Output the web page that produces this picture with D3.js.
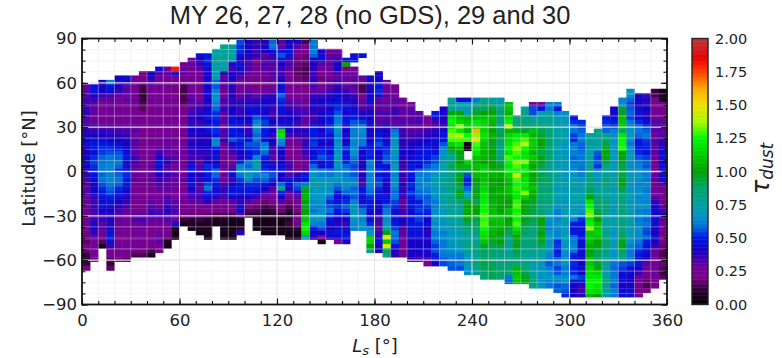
<!DOCTYPE html>
<html>
<head>
<meta charset="utf-8">
<script src="https://cdnjs.cloudflare.com/ajax/libs/d3/7.8.5/d3.min.js"></script>
<style>
  html, body { margin: 0; padding: 0; background: #fff; }
  svg { display: block; }
  text { font-family: "DejaVu Sans", sans-serif; fill: #222; }
</style>
</head>
<body>
<svg id="chart" width="782" height="358"></svg>
<script>
// tick labels
const lsTicks = [0, 60, 120, 180, 240, 300, 360];
const latTicks = [90, 60, 30, 0, -30, -60, -90];
const tauTicks = [0, 0.25, 0.5, 0.75, 1, 1.25, 1.5, 1.75, 2];

// first filled 3 degree latitude row in each 5 degree Ls column (row 0 is the top one)
const topRow = [10,10,9,9,8,8,8,7,7,6,6,6,5,4,3,3,2,1,1,0,0,0,0,0,0,0,0,0,0,2,2,2,4,3,3,8,7,9,10,13,14,16,17,16,15,13,13,13,13,13,13,13,14,17,15,14,14,14,14,16,17,18,21,20,17,15,13,11,12,12,11,11];

// dust opacity x100, one list per Ls column, going down from topRow
const tauColumns = [
  [30,30,32,35,33,36,38,33,30,36,38,40,42,45,42,40,42,44,40,38,36,34,32,30,33,28,30,28,26,28,25,24,22,20,18,16,22,18,10,8,12,20],
  [45,48,42,35,32,30,30,28,30,32,36,40,45,48,50,46,52,55,52,50,48,44,42,40,40,36,34,36,34,32,36,38,42,36,30,26,28,22,28,25],
  [40,42,40,36,30,26,24,28,24,26,30,38,40,46,50,52,54,58,60,62,60,58,60,56,52,48,44,44,46,42,36,36,32,30,28,24,16,6],
  [62,48,44,34,30,28,26,26,24,28,32,36,38,42,48,52,56,60,62,64,62,62,64,60,58,55,50,46,44,40,36,40,38,44,46,50,44,36,24,22,14,12,16],
  [42,44,40,36,30,28,25,27,28,24,26,30,34,38,42,44,50,56,58,62,58,52,58,60,58,52,48,44,40,38,34,30,30,26,28,24,22,24,26,28,22,20],
  [44,40,30,32,28,30,26,24,26,28,26,30,34,36,38,40,42,46,48,46,44,48,52,50,48,44,40,38,36,34,30,28,26,28,26,24,22,26,28,24,22,16],
  [28,26,26,24,28,26,28,24,25,28,26,30,30,28,32,30,32,30,36,34,30,30,28,30,26,24,28,26,24,22,26,30,32,28,26,26,24,26,28,20,14],
  [22,20,24,14,12,10,12,14,16,22,26,24,26,24,26,22,24,26,22,24,28,24,26,26,28,24,24,22,24,28,26,24,30,34,30,28,26,28,26,24,20,14],
  [40,38,34,28,26,28,26,24,22,24,22,24,26,22,24,26,28,26,28,26,28,30,30,28,30,28,26,24,28,30,32,34,36,30,26,22,24,22,26,24,14,6],
  [45,32,26,24,26,28,24,22,26,24,24,26,26,28,26,24,28,26,30,36,42,50,46,42,38,36,32,30,28,26,28,30,32,34,30,26,28,28,30,30,28,22],
  [28,30,26,24,26,24,26,28,24,26,26,24,24,26,26,28,30,28,32,28,34,38,32,34,36,32,30,30,26,34,32,36,38,34,32,28,24,26,18,8,6],
  [180,46,24,22,22,18,20,26,26,26,24,28,26,24,22,26,26,28,26,30,32,30,28,30,32,28,30,28,26,28,30,32,34,30,24,45,8,6,5],
  [26,28,30,24,22,14,12,14,14,16,20,24,22,28,26,24,28,26,26,30,28,26,28,26,28,28,30,26,24,26,28,26,24,20,18,12,6],
  [26,30,26,28,24,26,26,28,30,32,30,32,34,38,36,40,42,38,36,40,38,36,34,38,46,50,42,44,48,40,36,34,30,26,24,18,10,8,6],
  [44,40,36,30,26,28,22,24,22,26,28,32,36,38,40,36,38,42,40,38,42,40,36,34,30,32,36,40,36,34,30,34,36,30,28,22,18,12,8,6,6],
  [50,52,48,44,42,40,46,42,44,42,40,38,42,44,46,42,44,46,40,38,40,42,36,38,42,52,48,50,46,55,60,50,44,38,28,22,16,10,8,6,6,5],
  [74,76,78,72,74,70,76,58,56,62,64,66,60,58,52,52,50,48,52,50,62,64,50,44,46,42,48,56,58,52,50,46,44,38,30,24,20,12,8,6],
  [78,78,76,76,72,76,38,30,34,30,28,26,34,30,36,32,30,32,28,34,32,36,30,28,26,24,26,30,26,28,26,34,36,38,34,28,24,20,14,8,6,6,6,6],
  [76,76,76,72,44,34,40,42,36,38,36,40,36,38,42,42,44,46,48,50,46,56,44,36,34,28,24,30,40,44,36,42,46,48,40,32,28,22,12,6,5,5,5,6],
  [55,52,52,45,42,46,44,36,32,28,28,26,30,34,38,36,36,42,46,46,44,50,52,48,46,42,38,52,62,66,60,54,48,50,46,40,36,44,44,30,6,5,10,42],
  [42,40,40,38,36,34,32,30,26,24,26,30,36,34,40,46,42,40,44,38,36,42,48,56,52,44,48,62,58,64,70,64,52,50,46,42,32,22,16,8],
  [36,36,34,38,28,24,28,24,22,22,20,26,30,36,42,44,46,56,62,66,62,58,60,56,54,52,62,72,74,64,62,56,52,50,42,36,22,18,14,8,5,5,6],
  [38,40,42,30,32,34,30,28,26,22,24,26,36,40,42,44,42,50,54,52,50,48,46,60,64,58,50,44,50,52,64,58,48,40,34,26,18,14,10,6,6,5,5,6],
  [58,60,46,38,34,32,30,34,30,30,26,30,38,42,38,36,34,36,40,44,42,36,40,38,34,32,30,36,44,50,56,52,40,32,28,26,22,16,12,8,6,6,6,5],
  [32,30,50,56,45,40,36,34,38,40,44,50,58,52,48,46,44,38,45,45,115,120,66,62,44,40,38,42,46,48,40,42,58,76,46,40,32,24,18,10,6,5,5,5],
  [42,42,48,44,36,34,30,28,24,24,26,26,28,30,34,36,40,42,44,42,42,34,28,26,24,22,26,32,36,34,32,48,45,42,30,24,18,14,10,6,10,12,6,5,6],
  [42,30,28,22,18,18,16,16,18,20,22,24,26,28,32,34,36,40,36,38,38,36,28,26,24,22,24,22,20,26,44,38,58,54,36,30,22,24,20,14,22,26,10,6,5],
  [14,20,22,18,18,16,14,14,16,18,20,20,24,28,26,32,34,30,30,30,40,36,34,36,36,36,30,26,28,34,48,44,60,95,100,105,100,95,100,100,110,120,125,115,70],
  [60,60,62,58,42,40,38,34,36,38,32,30,36,38,42,38,36,34,36,46,50,48,52,54,46,44,48,52,58,64,66,70,72,68,66,66,64,64,60,66,68,62,50,42,38],
  [42,46,44,32,28,22,18,20,26,30,36,42,40,38,40,44,42,40,42,44,46,42,48,52,56,46,44,60,62,66,72,70,66,66,68,62,64,70,68,60,55,40,25,5],
  [28,30,32,30,28,24,28,30,30,34,38,42,44,42,44,46,48,52,52,46,44,42,48,44,52,50,48,58,60,68,70,64,66,58,52,56,60,54,48,44,42,45,40],
  [28,32,34,40,42,32,30,34,36,40,42,44,48,52,56,60,62,66,66,62,64,66,64,68,72,70,66,62,66,70,60,56,45,42,48,54,50,46,40,38,44,50,42,25],
  [44,100,20,28,30,28,30,36,40,38,44,46,42,50,48,46,42,44,42,44,54,46,50,52,58,62,60,64,66,62,58,48,52,58,54,44,40,36,44,46,48,42],
  [46,48,null,25,28,30,30,32,30,36,38,40,44,46,48,56,58,62,60,64,62,64,66,60,58,54,56,56,62,64,58,60,56,62,66,70,68,66,64,62],
  [46,null,null,null,null,30,22,14,14,20,26,30,34,38,44,54,60,66,62,60,60,48,42,44,38,40,36,40,36,32,48,50,46,44,54,60,62,62,66,64],
  [44,42,38,40,42,44,38,36,42,40,46,40,40,42,42,48,46,52,50,64,60,62,62,64,62,60,58,52,50,48,46,42,44,52,62,66,110,115,100,85],
  [42,40,42,50,52,46,30,32,30,34,30,32,36,44,48,52,56,50,42,44,46,48,52,48,54,56,52,46,48,42,44,40,38,34,32,30,36,42,44,40,42],
  [28,26,28,30,28,32,30,34,30,34,38,40,42,44,46,52,54,56,58,46,48,46,46,40,42,40,48,50,56,60,62,64,70,74,100,145,110,145,90,82],
  [24,26,28,30,30,34,36,32,30,34,60,62,66,66,70,66,64,64,68,66,62,64,66,62,58,60,54,52,44,46,46,50,54,60,58,56,48,38,38],
  [28,26,30,30,30,32,34,34,36,38,36,42,40,38,36,34,36,36,34,38,36,38,34,30,32,34,34,40,38,32,30,30,28,28,26,24],
  [26,30,32,30,32,28,32,34,36,40,42,40,44,46,50,46,50,46,52,50,54,48,44,48,46,44,46,50,48,46,44,42,42,40,40,36],
  [30,32,34,30,32,36,38,42,44,46,50,48,46,56,62,64,60,62,58,56,50,52,54,50,54,50,48,46,44,40,40,42,38,34],
  [26,28,28,36,38,42,44,48,50,48,52,56,60,62,60,66,62,60,56,58,54,52,50,42,44,40,38,42,40,42,44,38,34,24],
  [50,46,34,34,38,42,46,44,42,50,54,56,60,62,70,68,72,66,68,64,60,62,64,66,68,64,66,60,62,58,54,56,50,46,40],
  [40,42,40,38,36,44,46,48,56,62,66,70,72,76,74,74,76,78,72,74,76,72,74,70,68,70,66,68,62,64,60,60,62,60,56,55],
  [76,78,80,100,120,125,120,130,135,130,115,100,85,80,82,90,85,80,78,82,85,80,84,78,80,76,80,76,72,70,66,68,70,66,64,60,60,58,56],
  [45,72,76,100,110,115,135,120,140,130,120,105,100,95,100,105,90,95,100,95,90,100,92,85,78,76,82,80,76,74,72,70,72,70,66,60,58,60,55],
  [45,68,70,72,105,110,115,105,125,130,5,5,null,null,115,105,90,55,50,52,58,66,80,95,100,105,100,98,90,85,80,76,78,82,78,70,66,70,66,64],
  [60,76,90,95,110,120,120,160,135,150,130,125,120,110,105,110,105,108,100,98,95,100,95,90,98,100,98,92,88,88,82,78,75,82,80,78,76,85,80,78],
  [80,85,90,100,110,115,115,115,120,115,110,105,105,105,100,110,115,108,110,112,115,118,120,122,125,125,130,128,130,125,120,115,110,95,90,88,90,92,90,88,85],
  [72,84,95,100,108,106,102,100,105,102,95,100,100,98,100,100,105,105,100,102,100,100,98,104,105,108,110,110,106,108,105,100,96,92,88,86,88,90,92,90,92],
  [70,76,80,88,84,82,80,90,92,88,84,82,80,88,90,95,105,104,100,100,102,104,100,102,100,100,105,110,108,104,100,96,100,92,84,80,80,82,84,88,85],
  [108,110,105,120,125,140,105,115,118,120,125,120,130,125,120,125,115,110,105,110,108,102,100,100,110,108,100,102,95,90,82,80,78,76,78,80,84,86,88,60,58],
  [82,85,88,105,120,125,130,135,130,125,135,130,125,145,130,125,128,122,120,128,130,125,128,125,130,118,110,100,95,98,92,88,85,80,105,110,112,108],
  [76,78,82,84,88,95,120,130,140,125,118,120,135,120,125,115,118,122,118,135,112,100,98,100,96,98,92,90,88,85,86,82,80,78,78,82,86,92,98,96],
  [28,55,55,78,80,85,110,105,112,115,108,105,112,108,100,105,100,98,105,110,102,98,95,94,92,90,92,88,85,82,84,86,84,80,78,76,74,72,76,80,85,80],
  [28,50,74,76,78,84,92,95,98,100,96,90,98,95,92,88,92,90,88,85,88,84,86,82,84,90,100,98,96,100,98,95,90,78,76,72,70,66,68,66,65,68],
  [62,60,76,80,78,82,82,85,88,86,84,88,85,82,80,82,84,88,86,84,88,82,84,80,76,72,66,64,62,66,68,66,70,66,62,60,56,60,64,68,62,60],
  [60,48,62,70,72,70,74,76,76,72,74,70,72,68,70,74,76,74,72,70,74,70,72,66,62,60,62,66,64,62,62,52,54,50,52,58,60,54,56,66,62,56,58],
  [65,66,68,70,72,70,72,68,66,68,70,72,70,66,68,70,72,70,68,70,66,70,72,70,70,72,68,70,72,70,66,66,64,68,66,60,62,64,66,58,56,52],
  [48,52,60,60,54,52,60,62,62,58,60,62,64,68,70,72,72,72,72,72,68,70,66,62,50,46,48,58,62,64,60,50,48,52,50,52,60,46,42,40,40],
  [52,54,58,60,62,58,56,60,60,62,60,58,62,66,70,72,72,74,70,66,68,64,52,50,48,46,48,46,44,44,46,42,42,44,42,54,48,36,34,38],
  [76,74,78,72,76,74,72,76,82,86,82,84,88,92,100,120,125,130,135,120,125,135,110,112,108,104,100,102,110,112,115,118,120,125,125,120,105],
  [82,78,76,72,74,56,54,58,52,62,68,66,72,76,80,84,88,86,92,96,100,110,112,115,108,100,98,92,90,88,95,100,115,120,125,120,118,100],
  [50,52,56,58,82,86,92,96,102,98,92,84,78,80,82,84,78,76,78,82,84,80,78,76,74,78,80,84,88,86,82,78,76,78,74,72,80,84,82,78,75],
  [42,42,44,50,54,62,64,66,68,66,68,70,66,68,70,72,76,74,72,70,74,72,70,68,70,72,74,70,66,68,70,72,66,66,68,60,58,60,60,62,58,62,60],
  [62,64,95,96,108,110,112,88,120,125,125,128,100,98,95,92,95,92,96,100,92,88,85,84,82,85,84,82,84,82,86,92,96,98,90,84,78,56,54,46,44,44,42,44,46],
  [66,64,58,54,56,58,54,60,64,66,68,64,60,66,68,70,66,64,68,70,72,68,66,70,72,68,70,72,70,74,70,72,68,70,66,62,60,60,62,54,46,44,42,42,40,44,46],
  [40,42,40,44,46,44,52,58,60,58,50,48,50,52,56,60,62,64,66,64,62,64,66,62,64,66,62,64,60,62,66,64,62,60,58,52,48,46,50,42,36,28,26,24,22,22],
  [36,40,36,42,38,40,44,52,58,60,54,52,50,46,54,58,56,60,62,60,64,62,60,64,62,66,60,62,58,60,56,54,58,50,48,44,42,40,30,28,24,24,16,14,20],
  [12,14,20,20,24,26,28,30,34,30,28,32,30,32,30,28,26,28,26,28,30,26,28,26,30,38,42,44,42,44,46,42,40,44,40,36,30,26,24,24,26,28,26,22,24],
  [5,6,6,22,24,20,26,30,32,30,32,36,38,42,44,46,42,44,46,44,46,30,28,26,22,26,30,34,40,30,26,24,22,20,24,18,16,14,16,18,14,12,16]
];

// colormap stops
const cmapStops = [0, 0.1, 0.2, 0.28, 0.34, 0.4, 0.5, 0.6, 0.66, 0.75, 0.88, 1, 1.12, 1.25, 1.37, 1.5, 1.62, 1.75, 1.85, 2];
const cmapColors = ["#000000", "#2a0030", "#7a0088", "#700098", "#4400b0", "#1800c4", "#0018e4", "#0078d8", "#0094c4", "#00a0a0", "#00a468", "#00a400", "#00cc00", "#00fa00", "#a8fa00", "#f0e000", "#ffa800", "#ff3c00", "#e60000", "#b83c3c"];

const width = 782, height = 358;
const plot = {left: 82, right: 667, top: 38.5, bottom: 304.5};
const bar = {left: 692, right: 708, top: 38.5, bottom: 304.5};

const svg = d3.select("#chart");
const x = d3.scaleLinear().domain([0, 360]).range([plot.left, plot.right]);
const y = d3.scaleLinear().domain([90, -90]).range([plot.top, plot.bottom]);
const color = d3.scaleLinear().domain(cmapStops).range(cmapColors).clamp(true);

const lsBin = 5, latBin = 3, firstLat = 89;

// blur a touch, the reference is a soft screenshot
svg.append("defs").append("filter").attr("id", "soft")
  .attr("x", "-2%").attr("y", "-2%").attr("width", "104%").attr("height", "104%")
  .append("feGaussianBlur").attr("stdDeviation", 0.6);

svg.append("clipPath").attr("id", "plotClip").append("rect")
  .attr("x", plot.left).attr("y", plot.top)
  .attr("width", plot.right - plot.left).attr("height", plot.bottom - plot.top);

const cells = [];
tauColumns.forEach((col, i) => {
  col.forEach((v, k) => {
    if (v === null) return;
    cells.push({ls: i * lsBin, lat: firstLat - latBin * (topRow[i] + k), tau: v / 100});
  });
});

// keep the soft edge inside the frame
const heat = svg.append("g").attr("clip-path", "url(#plotClip)").append("g").attr("filter", "url(#soft)");
heat.selectAll("rect").data(cells).enter().append("rect")
  .attr("x", d => x(d.ls))
  .attr("y", d => y(d.lat))
  .attr("width", x(lsBin) - x(0) + 0.3)
  .attr("height", y(0) - y(latBin) + 0.3)
  .attr("fill", d => color(d.tau));

// grid, every tick has a line, the labelled ones are stronger
const lsGrid = d3.range(10, 360, 10);
const latGrid = d3.range(-82.5, 90, 7.5);
const grid = svg.append("g");
grid.selectAll(".gx").data(lsGrid).enter().append("line")
  .attr("x1", d => x(d)).attr("x2", d => x(d))
  .attr("y1", plot.top).attr("y2", plot.bottom)
  .attr("stroke", "#e4e4e4")
  .attr("stroke-width", d => d % 60 === 0 ? 1.1 : 0.7)
  .attr("opacity", d => d % 60 === 0 ? 0.9 : 0.5);
grid.selectAll(".gy").data(latGrid).enter().append("line")
  .attr("y1", d => y(d)).attr("y2", d => y(d))
  .attr("x1", plot.left).attr("x2", plot.right)
  .attr("stroke", "#e4e4e4")
  .attr("stroke-width", d => d % 30 === 0 ? 1.3 : 0.7)
  .attr("opacity", d => d % 30 === 0 ? 0.95 : 0.5);

// axes, ticks point inwards on all four sides
function styleAxis(g) {
  g.selectAll("path").remove();
  g.selectAll("line").attr("stroke", "#111").attr("stroke-width", 1.1);
  g.selectAll("text").attr("font-size", 16.5).attr("fill", "#222");
}
const xMinor = d3.range(0, 361, 10), yMinor = d3.range(-90, 91, 7.5);

function addTicks(axis, values, size, labels, transform) {
  const g = svg.append("g").attr("transform", transform)
    .call(axis.tickValues(values).tickSize(size).tickPadding(6)
      .tickFormat(labels ? d3.format("d") : ""));
  styleAxis(g);
  return g;
}
addTicks(d3.axisBottom(x), xMinor, -3.5, false, `translate(0,${plot.bottom})`);
addTicks(d3.axisTop(x), xMinor, -3.5, false, `translate(0,${plot.top})`);
addTicks(d3.axisLeft(y), yMinor, -3.5, false, `translate(${plot.left},0)`);
addTicks(d3.axisRight(y), yMinor, -3.5, false, `translate(${plot.right},0)`);
const xMajor = addTicks(d3.axisBottom(x), lsTicks, -6, true, `translate(0,${plot.bottom})`);
xMajor.selectAll("text").attr("dy", 0).attr("y", 21.5);
addTicks(d3.axisTop(x), lsTicks, -6, false, `translate(0,${plot.top})`);
const yMajor = addTicks(d3.axisLeft(y), latTicks, -6, true, `translate(${plot.left},0)`);
yMajor.selectAll("text").attr("x", -5);
addTicks(d3.axisRight(y), latTicks, -6, false, `translate(${plot.right},0)`);

svg.append("rect")
  .attr("x", plot.left).attr("y", plot.top)
  .attr("width", plot.right - plot.left).attr("height", plot.bottom - plot.top)
  .attr("fill", "none").attr("stroke", "#111").attr("stroke-width", 1.8);

// colorbar
const yBar = d3.scaleLinear().domain([0, 2]).range([bar.bottom, bar.top]);
const barSteps = d3.range(0, 2, 0.01);
svg.append("g").selectAll("rect").data(barSteps).enter().append("rect")
  .attr("x", bar.left)
  .attr("y", d => yBar(d + 0.01))
  .attr("width", bar.right - bar.left)
  .attr("height", yBar(0) - yBar(0.01) + 0.5)
  .attr("fill", d => color(d));
svg.append("rect")
  .attr("x", bar.left).attr("y", bar.top)
  .attr("width", bar.right - bar.left).attr("height", bar.bottom - bar.top)
  .attr("fill", "none").attr("stroke", "#222").attr("stroke-width", 1.4);
const barAxis = svg.append("g").attr("transform", `translate(${bar.right},0)`)
  .call(d3.axisRight(yBar).tickValues(tauTicks).tickSize(0).tickPadding(7).tickFormat(d3.format(".2f")));
barAxis.select("path").remove();
barAxis.selectAll("text").attr("font-size", 14.5).attr("fill", "#222");

// title and axis labels
svg.append("text").attr("x", 370).attr("y", 24)
  .attr("text-anchor", "middle")
  .style("font-family", '"Liberation Sans", sans-serif').style("font-size", "25.5px").attr("fill", "#111")
  .text("MY 26, 27, 28 (no GDS), 29 and 30");

svg.append("text")
  .attr("transform", `translate(35,${(plot.top + plot.bottom) / 2 - 3}) rotate(-90)`)
  .attr("text-anchor", "middle").attr("font-size", 18)
  .text("Latitude [°N]");

const xLabel = svg.append("text").attr("x", 375).attr("y", 352).attr("text-anchor", "middle").attr("font-size", 18);
xLabel.append("tspan").attr("font-style", "italic").text("L");
xLabel.append("tspan").attr("font-style", "italic").attr("font-size", 13).attr("dy", 3).text("s");
xLabel.append("tspan").attr("dy", -3).text(" [°]");

const tauLabel = svg.append("text")
  .attr("transform", `translate(769,${(bar.top + bar.bottom) / 2 - 3}) rotate(-90)`)
  .attr("text-anchor", "middle").attr("font-size", 24);
tauLabel.append("tspan").attr("font-style", "italic").text("τ");
tauLabel.append("tspan").attr("font-style", "italic").attr("font-size", 17).attr("dy", 4).text("dust");
</script>
</body>
</html>
